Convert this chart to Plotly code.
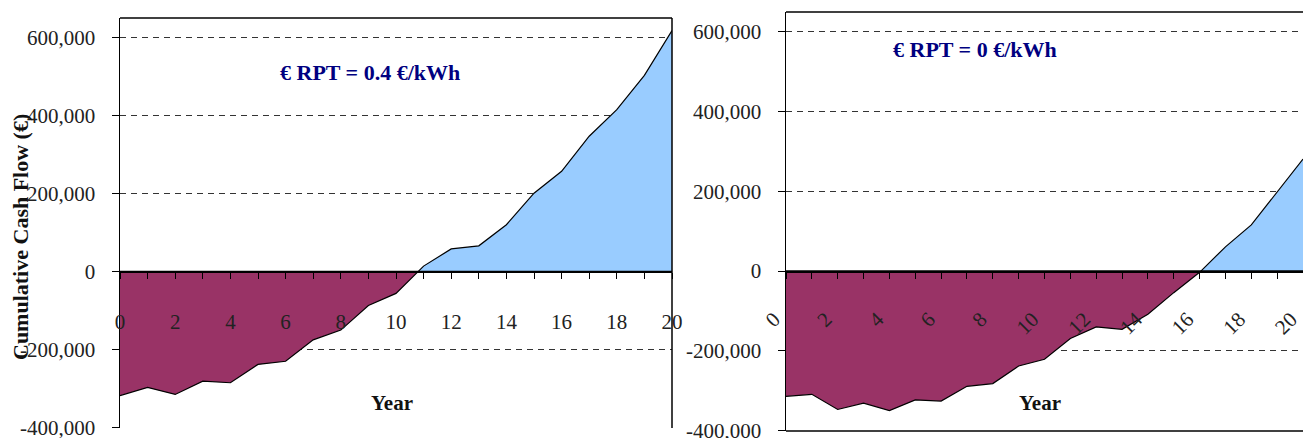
import numpy as np
import plotly.graph_objects as go

# ---------------- data ----------------
years = list(range(0, 21))
cum_cf_rpt04 = [-318000, -297000, -315000, -281000, -285000, -238000, -230000, -175000,
                -150000, -87000, -56000, 14000, 58000, 66000, 120000, 201000, 257000,
                347000, 415000, 503000, 618000]
cum_cf_rpt0 = [-314000, -309000, -347000, -331000, -350000, -323000, -326000, -289000,
               -282000, -238000, -221000, -169000, -140000, -146000, -108000, -54000, -3000,
               61000, 116000, 197000, 281000]
panel_titles = ["€ RPT = 0.4 €/kWh", "€ RPT = 0 €/kWh"]
y_tick_vals = [-400000, -200000, 0, 200000, 400000, 600000]
y_tick_text = ["-400,000", "-200,000", "0", "200,000", "400,000", "600,000"]
x_label = "Year"
y_label = "Cumulative Cash Flow (€)"

W, H = 1303, 438
Y_RANGE = [-401000, 650000]
FONT = "Liberation Serif"
NEG_COLOR = "#993366"
POS_COLOR = "#99CCFF"


def px_x(p):
    return p / W


def px_y(p):
    return 1 - p / H


def split_at_zero(x, y):
    """Insert interpolated zero crossings so fills change colour exactly at 0."""
    xs, ys = [x[0]], [y[0]]
    for i in range(1, len(x)):
        y0, y1 = y[i - 1], y[i]
        if (y0 < 0 < y1) or (y0 > 0 > y1):
            xc = x[i - 1] + (0 - y0) * (x[i] - x[i - 1]) / (y1 - y0)
            xs.append(xc)
            ys.append(0)
        xs.append(x[i])
        ys.append(y[i])
    return np.array(xs, dtype=float), np.array(ys, dtype=float)


fig = go.Figure()

panels = [
    dict(data=cum_cf_rpt04, xd=[px_x(120), px_x(672)], yd=[px_y(428), px_y(18)],
         xa="x", ya="y", xname="xaxis", yname="yaxis", angle=0,
         title_pos=(370, 72), year_pos=(392, 403)),
    dict(data=cum_cf_rpt0, xd=[px_x(786), 1.0], yd=[px_y(431), px_y(12)],
         xa="x2", ya="y2", xname="xaxis2", yname="yaxis2", angle=-45,
         title_pos=(975, 50), year_pos=(1040, 403)),
]

layout_axes = {}
annotations = []
shapes = []
for k, p in enumerate(panels):
    xs, ys = split_at_zero(years, p["data"])
    neg = np.minimum(ys, 0)
    pos = np.maximum(ys, 0)
    fig.add_trace(go.Scatter(x=xs, y=neg, mode="lines", line=dict(width=0),
                             fill="tozeroy", fillcolor=NEG_COLOR, hoverinfo="skip",
                             showlegend=False, xaxis=p["xa"], yaxis=p["ya"]))
    fig.add_trace(go.Scatter(x=xs, y=pos, mode="lines", line=dict(width=0),
                             fill="tozeroy", fillcolor=POS_COLOR, hoverinfo="skip",
                             showlegend=False, xaxis=p["xa"], yaxis=p["ya"]))
    fig.add_trace(go.Scatter(x=years, y=p["data"], mode="lines",
                             line=dict(color="black", width=1.2),
                             showlegend=False, xaxis=p["xa"], yaxis=p["ya"]))

    d0, d1 = p["yd"]
    zero_pos = d0 + (0 - Y_RANGE[0]) / (Y_RANGE[1] - Y_RANGE[0]) * (d1 - d0)
    layout_axes[p["xname"]] = dict(
        domain=p["xd"], range=[0, 20], anchor="free", position=zero_pos,
        automargin=False,
        showgrid=False, zeroline=False, showline=True, linecolor="black", linewidth=1.6,
        tickmode="linear", tick0=0, dtick=2, ticks="outside", ticklen=6,
        tickcolor="black", tickwidth=1, tickangle=p["angle"],
        minor=dict(dtick=1, ticks="outside", ticklen=6, tickcolor="black", tickwidth=1),
        ticklabelstandoff=25 if p["angle"] == 0 else 20,
        ticklabelshift=0 if p["angle"] == 0 else -12,
        ticklabeloverflow="allow",
        tickfont=dict(family=FONT, size=21, color="#222"),
        fixedrange=True, layer="above traces",
    )
    layout_axes[p["yname"]] = dict(
        domain=p["yd"], range=Y_RANGE, anchor=p["xa"], automargin=False,
        tickvals=y_tick_vals, ticktext=y_tick_text,
        showgrid=True, gridcolor="#333", griddash="6px,5px", gridwidth=1,
        zeroline=False, showline=True, linecolor="black", linewidth=1.5,
        ticks="outside", ticklen=7, tickcolor="black", ticklabelstandoff=12,
        ticklabeloverflow="allow",
        tickfont=dict(family=FONT, size=21, color="#222"),
        fixedrange=True,
    )
    # zero line (category axis crossing) drawn as frame element above the fills
    shapes.append(dict(type="line", xref=f"{p['xa']} domain", yref=p["ya"],
                       x0=0, x1=1, y0=0, y1=0, layer="above",
                       line=dict(color="black", width=1.6)))
    # top border
    shapes.append(dict(type="line", xref=f"{p['xa']} domain", yref=f"{p['ya']} domain",
                       x0=0, x1=1, y0=1, y1=1, line=dict(color="black", width=1.5)))
    if k == 0:
        shapes.append(dict(type="line", xref=f"{p['xa']} domain", yref=f"{p['ya']} domain",
                           x0=1, x1=1, y0=0, y1=1, line=dict(color="black", width=1.5)))
    else:
        shapes.append(dict(type="line", xref=f"{p['xa']} domain", yref=f"{p['ya']} domain",
                           x0=0, x1=1, y0=0, y1=0, line=dict(color="black", width=1.5)))

    annotations.append(dict(text=f"<b>{panel_titles[k]}</b>", xref="paper", yref="paper",
                            x=px_x(p["title_pos"][0]), y=px_y(p["title_pos"][1]),
                            xanchor="center", yanchor="middle", showarrow=False,
                            font=dict(family=FONT, size=22, color="#000080")))
    annotations.append(dict(text=f"<b>{x_label}</b>", xref="paper", yref="paper",
                            x=px_x(p["year_pos"][0]), y=px_y(p["year_pos"][1]),
                            xanchor="center", yanchor="middle", showarrow=False,
                            font=dict(family=FONT, size=21, color="#111")))

annotations.append(dict(text=f"<b>{y_label}</b>", xref="paper", yref="paper",
                        x=px_x(20), y=px_y(237), textangle=-90,
                        xanchor="center", yanchor="middle", showarrow=False,
                        font=dict(family=FONT, size=22, color="#111")))

fig.update_layout(
    width=W, height=H,
    margin=dict(l=0, r=0, t=0, b=0, autoexpand=False),
    paper_bgcolor="white", plot_bgcolor="white",
    showlegend=False,
    annotations=annotations, shapes=shapes,
    **layout_axes,
)

fig.write_html(
    "out.html",
    config={"displayModeBar": False, "staticPlot": True},
    post_script="document.body.style.margin='0';document.body.style.padding='0';"
                "document.body.style.overflow='hidden';",
)
